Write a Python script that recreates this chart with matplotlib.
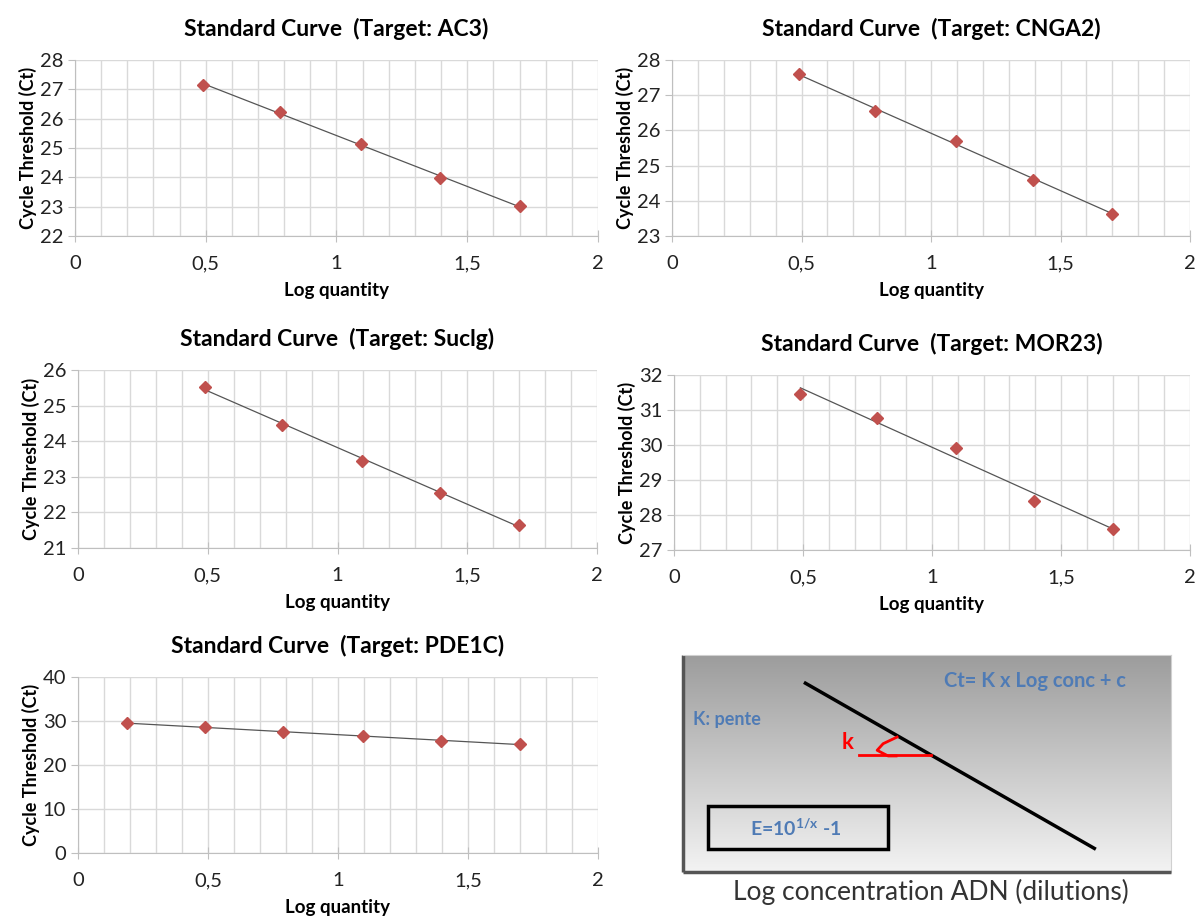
import matplotlib
matplotlib.use('Agg')
import matplotlib.pyplot as plt
import numpy as np
from matplotlib.colors import LinearSegmentedColormap
from matplotlib.ticker import MultipleLocator, FuncFormatter

plt.rcParams['font.family'] = ['Lato', 'DejaVu Sans']
plt.rcParams['mathtext.fontset'] = 'custom'
plt.rcParams['mathtext.bf'] = 'Lato:bold'
plt.rcParams['mathtext.rm'] = 'Lato:bold'

# data
x5 = [0.49, 0.785, 1.095, 1.395, 1.70]
x6 = [0.19, 0.49, 0.79, 1.095, 1.395, 1.70]

ac3 = [27.15, 26.22, 25.15, 23.97, 23.02]
cnga2 = [27.60, 26.55, 25.70, 24.60, 23.63]
suclg = [25.52, 24.45, 23.45, 22.55, 21.65]
mor23 = [31.45, 30.78, 29.90, 28.40, 27.60]
pde1c = [29.5, 28.7, 27.5, 26.5, 25.5, 24.8]

targets = ['AC3', 'CNGA2', 'Suclg', 'MOR23', 'PDE1C']
yticks = [(22, 28, 1), (23, 28, 1), (21, 26, 1), (27, 32, 1), (0, 40, 10)]

fig = plt.figure(figsize=(11.99, 9.19), dpi=100)

# axes boxes in figure fraction
boxes = [
    [0.0626, 0.7432, 0.4361, 0.1915],
    [0.5605, 0.7432, 0.4320, 0.1915],
    [0.0650, 0.4037, 0.4330, 0.1937],
    [0.5621, 0.4015, 0.4304, 0.1905],
    [0.0650, 0.0718, 0.4337, 0.1915],
]
series = [(x5, ac3), (x5, cnga2), (x5, suclg), (x5, mor23), (x6, pde1c)]

comma = FuncFormatter(lambda v, p: ('%g' % v).replace('.', ','))

for i, (box, (xs, ys)) in enumerate(zip(boxes, series)):
    ax = fig.add_axes(box)
    lo, hi, step = yticks[i]
    ax.set_xlim(0, 2)
    ax.set_ylim(lo, hi)
    ax.xaxis.set_major_locator(MultipleLocator(0.5))
    ax.xaxis.set_minor_locator(MultipleLocator(0.1))
    ax.yaxis.set_major_locator(MultipleLocator(step))
    ax.xaxis.set_major_formatter(comma)
    ax.grid(True, which='both', axis='x', color='#d9d9d9', lw=1)
    ax.grid(True, which='major', axis='y', color='#d9d9d9', lw=1)
    ax.set_axisbelow(True)
    for s in ['top', 'right']:
        ax.spines[s].set_visible(False)
    for s in ['left', 'bottom']:
        ax.spines[s].set_color('#bfbfbf')
    ax.tick_params(axis='both', which='major', labelsize=14.5, colors='#bfbfbf',
                   labelcolor='#222222', length=5)
    ax.tick_params(axis='x', which='major', direction='inout', length=8, pad=10)
    ax.tick_params(axis='x', which='minor', length=0)

    # linear trend line
    k, c = np.polyfit(xs, ys, 1)
    xl = np.array([xs[0], xs[-1]])
    ax.plot(xl, k * xl + c, color='#555555', lw=0.9, zorder=2)
    ax.plot(xs, ys, 'D', color='#c0504d', ms=6, zorder=3)

    ax.set_title('Standard Curve  (Target: %s)' % targets[i], fontsize=16.5,
                 fontweight='bold', pad=17)
    ax.set_xlabel('Log quantity', fontsize=13.5, fontweight='bold', labelpad=7)
    ax.set_ylabel('Cycle Threshold (Ct)', fontsize=13, fontweight='bold', labelpad=2)

# explanatory diagram
dx = fig.add_axes([0.5696, 0.0511, 0.4070, 0.2362])
dx.set_xlim(0, 1)
dx.set_ylim(0, 1)
grad = np.linspace(0, 1, 256).reshape(-1, 1)
cmap = LinearSegmentedColormap.from_list('g', ['#f3f3f3', '#9c9c9c'])
dx.imshow(grad, extent=[0, 1, 0, 1], origin='lower', cmap=cmap, aspect='auto')
dx.set_xticks([])
dx.set_yticks([])
for s in ['top', 'right']:
    dx.spines[s].set_color('#d0d0d0')
for s in ['left', 'bottom']:
    dx.spines[s].set_color('#555555')
    dx.spines[s].set_linewidth(2.5)
    dx.spines[s].set_capstyle('butt')

dx.plot([0.251, 0.843], [0.87, 0.109], color='black', lw=2.5)
blue = '#4f7bb5'
dx.text(0.722, 0.878, 'Ct= K x Log conc + c', color=blue, fontsize=14.5,
        fontweight='bold', ha='center', va='center')
dx.text(0.02, 0.704, 'K: pente', color=blue, fontsize=13, fontweight='bold',
        ha='left', va='center')
dx.text(0.337, 0.596, 'k', color='red', fontsize=16, fontweight='bold',
        ha='center', va='center')
dx.plot([0.361, 0.508], [0.539, 0.539], color='red', lw=2)
arc_x = [(895 - 680) / 490, (881 - 680) / 490, (875 - 680) / 490, (886 - 680) / 490, (894 - 680) / 490]
arc_y = [1 - (745 - 658) / 230, 1 - (752 - 658) / 230, 1 - (759 - 658) / 230,
         1 - (765 - 658) / 230, 1 - (765 - 658) / 230]
dx.plot(arc_x, arc_y, color='red', lw=2)
dx.add_patch(plt.Rectangle((0.051, 0.104), 0.369, 0.20, fill=False,
                           edgecolor='black', lw=2.5))
dx.text(0.231, 0.204, r'E=10$^{\mathbf{1/x}}$ -1', color=blue, fontsize=14,
        fontweight='bold', ha='center', va='center')
dx.text(0.508, -0.03, 'Log concentration ADN (dilutions)', color='#333333',
        fontsize=19, ha='center', va='top', transform=dx.transAxes)

fig.savefig('out.png', dpi=100)
